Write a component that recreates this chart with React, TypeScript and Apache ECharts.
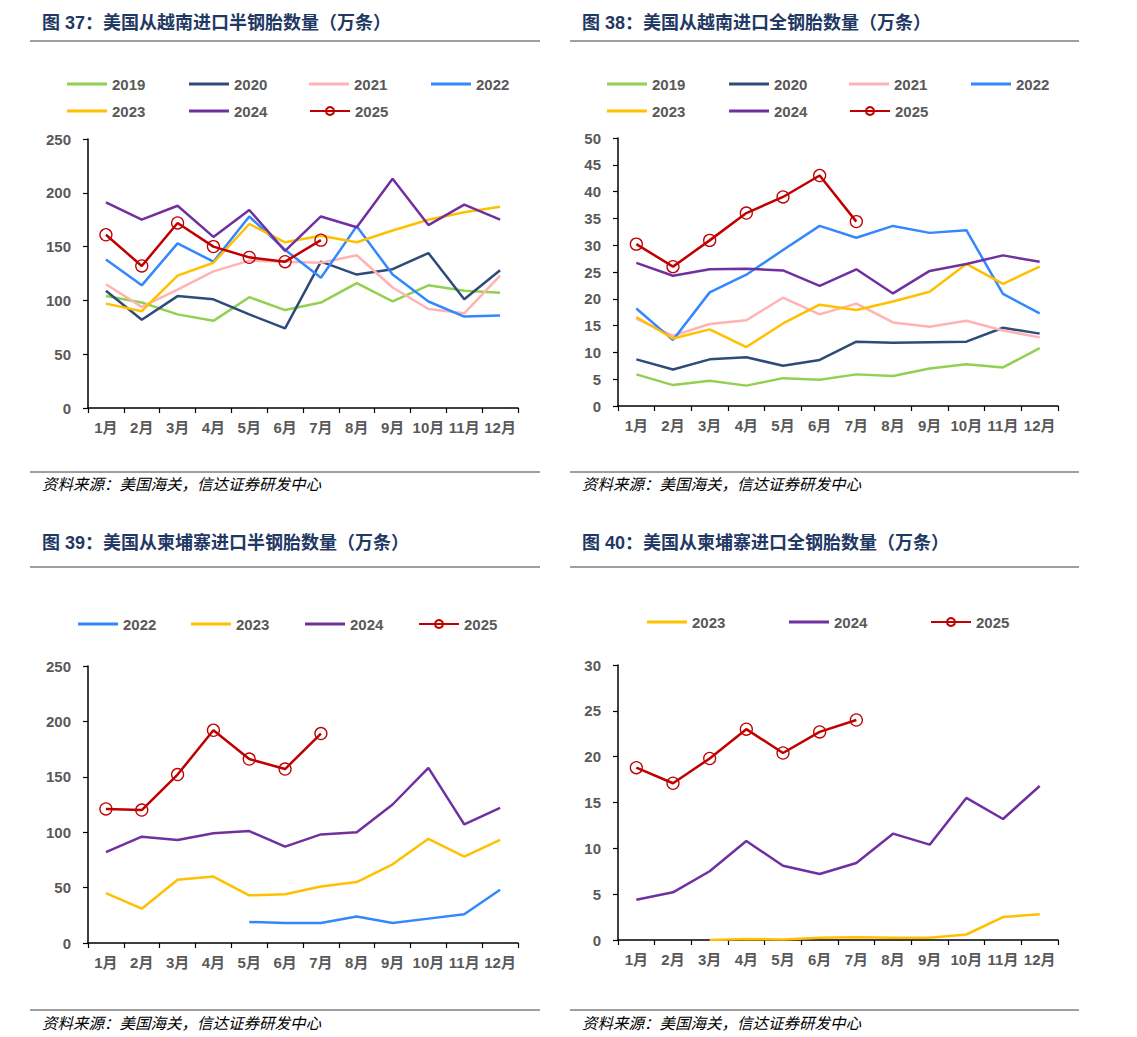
import React, { useEffect, useRef } from 'react';
import * as echarts from 'echarts';

const months = ['1月', '2月', '3月', '4月', '5月', '6月', '7月', '8月', '9月', '10月', '11月', '12月'];

// 图37 美国从越南进口半钢胎数量（万条）
const vnSemi2019 = [104, 98, 87, 81, 103, 91, 98, 116, 99, 114, 109, 107];
const vnSemi2020 = [109, 82, 104, 101, 87, 74, 136, 124, 129, 144, 101, 128];
const vnSemi2021 = [115, 94, 110, 127, 137, 136, 135, 142, 112, 92, 88, 123];
const vnSemi2022 = [138, 114, 153, 136, 178, 147, 121, 169, 124, 99, 85, 86];
const vnSemi2023 = [97, 90, 123, 135, 171, 154, 160, 154, 165, 175, 182, 187];
const vnSemi2024 = [191, 175, 188, 159, 184, 146, 178, 168, 213, 170, 189, 175];
const vnSemi2025 = [161, 132, 172, 150, 140, 136, 156];

// 图38 美国从越南进口全钢胎数量（万条）
const vnAll2019 = [5.9, 3.9, 4.7, 3.8, 5.2, 4.9, 5.9, 5.6, 7.0, 7.8, 7.2, 10.8];
const vnAll2020 = [8.7, 6.8, 8.7, 9.1, 7.5, 8.6, 12.0, 11.8, 11.9, 12.0, 14.6, 13.5];
const vnAll2021 = [16.3, 13.1, 15.3, 16.0, 20.2, 17.1, 19.1, 15.6, 14.8, 15.9, 14.1, 12.8];
const vnAll2022 = [18.2, 12.3, 21.2, 24.5, 29.1, 33.6, 31.4, 33.6, 32.3, 32.8, 20.9, 17.3];
const vnAll2023 = [16.6, 12.6, 14.3, 11.0, 15.4, 18.9, 17.9, 19.5, 21.3, 26.5, 22.8, 26.0];
const vnAll2024 = [26.7, 24.3, 25.5, 25.6, 25.3, 22.4, 25.5, 21.0, 25.2, 26.5, 28.1, 26.9];
const vnAll2025 = [30.2, 26.0, 30.9, 36.0, 39.0, 43.0, 34.4];

// 图39 美国从柬埔寨进口半钢胎数量（万条）
const khSemi2022 = [null, null, null, null, 19, 18, 18, 24, 18, 22, 26, 48];
const khSemi2023 = [45, 31, 57, 60, 43, 44, 51, 55, 71, 94, 78, 93];
const khSemi2024 = [82, 96, 93, 99, 101, 87, 98, 100, 125, 158, 107, 122];
const khSemi2025 = [121, 120, 152, 192, 166, 157, 189];

// 图40 美国从柬埔寨进口全钢胎数量（万条）
const khAll2023 = [null, null, 0.0, 0.1, 0.05, 0.25, 0.3, 0.25, 0.25, 0.6, 2.5, 2.8];
const khAll2024 = [4.4, 5.2, 7.5, 10.8, 8.1, 7.2, 8.4, 11.6, 10.4, 15.5, 13.2, 16.8];
const khAll2025 = [18.8, 17.1, 19.8, 23.0, 20.4, 22.7, 24.0];

const titles = [
  '图 37：美国从越南进口半钢胎数量（万条）',
  '图 38：美国从越南进口全钢胎数量（万条）',
  '图 39：美国从柬埔寨进口半钢胎数量（万条）',
  '图 40：美国从柬埔寨进口全钢胎数量（万条）',
];
const sourceText = '资料来源：美国海关，信达证券研发中心';

const COLORS: Record<string, string> = {
  '2019': '#92D050',
  '2020': '#2E4B7A',
  '2021': '#FFB3B3',
  '2022': '#3388FF',
  '2023': '#FFC000',
  '2024': '#7030A0',
  '2025': '#C00000',
};

const LATIN = "'Liberation Sans', Arial, 'Noto Sans CJK SC', sans-serif";
const CJK = "'Noto Sans CJK SC', sans-serif";
const LABEL_GRAY = '#595959';

const panels = [
  {
    title: titles[0], x0: 30, x1: 540, titleY: 23, lineTop: 41, lineBottom: 472, sourceY: 483,
    grid: { left: 88, top: 139, width: 430, height: 269 }, max: 250, interval: 50,
    series: [['2019', vnSemi2019], ['2020', vnSemi2020], ['2021', vnSemi2021], ['2022', vnSemi2022], ['2023', vnSemi2023], ['2024', vnSemi2024], ['2025', vnSemi2025]],
    legend: [[67, 84], [189, 84], [309, 84], [431, 84], [67, 111], [189, 111], [309, 111]],
  },
  {
    title: titles[1], x0: 570, x1: 1079, titleY: 23, lineTop: 41, lineBottom: 472, sourceY: 483,
    grid: { left: 618, top: 138, width: 440, height: 268 }, max: 50, interval: 5,
    series: [['2019', vnAll2019], ['2020', vnAll2020], ['2021', vnAll2021], ['2022', vnAll2022], ['2023', vnAll2023], ['2024', vnAll2024], ['2025', vnAll2025]],
    legend: [[607, 84], [729, 84], [849, 84], [971, 84], [607, 111], [729, 111], [849, 111]],
  },
  {
    title: titles[2], x0: 30, x1: 540, titleY: 543, lineTop: 567, lineBottom: 1010, sourceY: 1022,
    grid: { left: 88, top: 666, width: 430, height: 277 }, max: 250, interval: 50,
    series: [['2022', khSemi2022], ['2023', khSemi2023], ['2024', khSemi2024], ['2025', khSemi2025]],
    legend: [[78, 624], [191, 624], [305, 624], [418, 624]],
  },
  {
    title: titles[3], x0: 570, x1: 1079, titleY: 543, lineTop: 567, lineBottom: 1010, sourceY: 1022,
    grid: { left: 618, top: 665, width: 440, height: 275 }, max: 30, interval: 5,
    series: [['2023', khAll2023], ['2024', khAll2024], ['2025', khAll2025]],
    legend: [[647, 622], [789, 622], [930, 622]],
  },
];

function buildOption() {
  const grid: any[] = [];
  const xAxis: any[] = [];
  const yAxis: any[] = [];
  const series: any[] = [];
  const legend: any[] = [];
  const graphic: any[] = [];

  panels.forEach((p, i) => {
    grid.push({ ...p.grid, containLabel: false });
    xAxis.push({
      type: 'category', gridIndex: i, data: months, boundaryGap: true,
      axisLine: { lineStyle: { color: '#000', width: 1.5 } },
      axisTick: { show: true, length: 5, lineStyle: { color: '#000', width: 1.2 } },
      axisLabel: { interval: 0, margin: 12, color: LABEL_GRAY, fontWeight: 'bold', fontSize: 15, fontFamily: LATIN },
      splitLine: { show: false },
    });
    yAxis.push({
      type: 'value', gridIndex: i, min: 0, max: p.max, interval: p.interval,
      axisLine: { show: true, lineStyle: { color: '#000', width: 1.5 } },
      axisTick: { show: true, length: 5, lineStyle: { color: '#000', width: 1.2 } },
      axisLabel: { margin: 17, color: LABEL_GRAY, fontWeight: 'bold', fontSize: 15, fontFamily: LATIN },
      splitLine: { show: false },
    });
    p.series.forEach(([name, data]: any, k: number) => {
      const is25 = name === '2025';
      series.push({
        type: 'line', name, xAxisIndex: i, yAxisIndex: i, data,
        symbol: is25 ? 'circle' : 'none', symbolSize: 12, showSymbol: is25,
        lineStyle: { color: COLORS[name], width: 2.5 },
        itemStyle: is25 ? { color: 'rgba(0,0,0,0)', borderColor: COLORS[name], borderWidth: 1.3 } : { color: COLORS[name] },
        z: is25 ? 5 : 2,
        connectNulls: false,
      });
      const [lx, ly] = p.legend[k];
      legend.push({
        data: [is25 ? { name } : { name, icon: 'rect' }],
        left: lx, top: ly - 8, padding: 0, itemWidth: 40, itemHeight: is25 ? 10 : 3,
        textStyle: { color: LABEL_GRAY, fontWeight: 'bold', fontSize: 15, fontFamily: LATIN, lineHeight: 16 },
        selectedMode: false,
      });
    });
    graphic.push({
      type: 'text', x: p.x0 + 12, y: p.titleY,
      style: { text: p.title, fill: '#1F3864', font: `bold 18px ${LATIN}`, textVerticalAlign: 'middle' },
    });
    graphic.push({
      type: 'line', shape: { x1: p.x0, y1: p.lineTop, x2: p.x1, y2: p.lineTop },
      style: { stroke: '#7F7F7F', lineWidth: 1.5 },
    });
    graphic.push({
      type: 'line', shape: { x1: p.x0, y1: p.lineBottom, x2: p.x1, y2: p.lineBottom },
      style: { stroke: '#7F7F7F', lineWidth: 1.5 },
    });
    graphic.push({
      type: 'text', x: p.x0 + 12, y: p.sourceY,
      style: { text: sourceText, fill: '#000', font: `italic 15.5px ${CJK}`, textVerticalAlign: 'middle' },
    });
  });

  return {
    animation: false,
    backgroundColor: '#fff',
    grid, xAxis, yAxis, series, legend, graphic,
  };
}

export default function App() {
  const ref = useRef<HTMLDivElement>(null);
  useEffect(() => {
    if (!ref.current) return;
    const chart = echarts.init(ref.current, null, { renderer: 'svg' });
    chart.setOption(buildOption() as any);
    return () => chart.dispose();
  }, []);
  return <div ref={ref} style={{ position: 'absolute', left: 0, top: 0, width: 1137, height: 1037 }} />;
}
